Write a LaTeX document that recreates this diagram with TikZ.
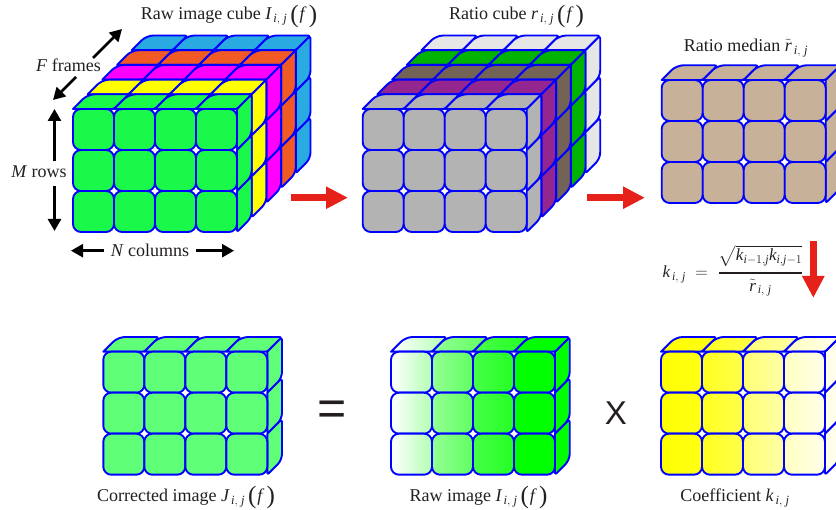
\documentclass[tikz,border=0pt]{standalone}
\usepackage{amsmath}
\usepackage{fontspec}
\setmainfont{Liberation Serif}
\newfontfamily\signfont{Liberation Sans}
\usetikzlibrary{arrows.meta,positioning}
\definecolor{cbgreen}{RGB}{26,249,74}
\definecolor{cbyellow}{RGB}{255,255,0}
\definecolor{cbmagenta}{RGB}{255,0,255}
\definecolor{cborange}{RGB}{241,90,36}
\definecolor{cbblue}{RGB}{41,171,226}
\definecolor{rcgray}{RGB}{179,179,179}
\definecolor{rcpurple}{RGB}{147,39,143}
\definecolor{rcbrown}{RGB}{115,99,87}
\definecolor{rcgreen}{RGB}{0,179,0}
\definecolor{rclight}{RGB}{230,230,230}
\definecolor{mdtan}{RGB}{199,178,153}
\definecolor{okgreen}{RGB}{95,255,120}
\definecolor{rawgreen}{RGB}{0,255,0}
\definecolor{cellblue}{RGB}{0,0,255}
\definecolor{inkblack}{RGB}{35,31,32}
\definecolor{flowred}{RGB}{230,33,26}
\tikzset{
  cellline/.style={draw=cellblue,line width=1.9pt,line join=round},
  frontface/.style={cellline,rounded corners=8pt},
  capnode/.style={anchor=base,text=inkblack,inner sep=0pt,font=\fontsize{18}{20}\selectfont},
  signnode/.style={text=inkblack,inner sep=0pt},
  flowarrow/.style={draw=flowred,line width=7pt,-{Triangle[length=22pt,width=21pt]}},
  axisarrow/.style={draw=black,line width=2.6pt,-{Triangle[length=12pt,width=13pt]}},
}
% one top cell, one side cell, one front cell
\newcommand{\topcell}[3]{\path[cellline,#3] (#1,#2) [rounded corners=7pt] -- ++(14.7,-14.7) [rounded corners=2.5pt] -- ++(41,0) [rounded corners=1.5pt] -- ++(-14.7,14.7) [sharp corners] -- cycle;}
\newcommand{\sidecell}[3]{\path[cellline,#3] (#1,#2) [rounded corners=3pt] -- ++(14.7,-14.7) [rounded corners=6pt] -- ++(0,41) [rounded corners=2pt] -- ++(-14.7,14.7) [sharp corners] -- cycle;}
\newcommand{\frontcell}[3]{\path[frontface,#3] (#1,#2) rectangle ++(41,41);}
% tops and sides of one layer
\newcommand{\cubelayer}[3]{%
  \foreach \c in {0,...,3} {\topcell{#1+\c*41}{#2}{fill=#3}}
  \foreach \r in {0,1,2} {\sidecell{#1+164}{#2+\r*41}{fill=#3}}
}
% twelve front cells
\newcommand{\frontgrid}[3]{%
  \foreach \c in {0,...,3} {\foreach \r in {0,1,2} {\frontcell{#1+\c*41}{#2+\r*41}{fill=#3}}}
}
\newcommand{\subij}{_{\,\textit{i},\;\textit{j}}}
\newcommand{\argf}{\hspace{3pt}\raisebox{-2.5pt}{\fontsize{25}{25}\selectfont(}\hspace{1pt}\textit{f}\hspace{2pt}\raisebox{-2.5pt}{\fontsize{25}{25}\selectfont)}}
\begin{document}
\begin{tikzpicture}[x=1pt,y=-1pt]
\path[use as bounding box,clip] (0,0) rectangle (836,510);
% Raw image cube
\foreach \k/\col in {4/cbblue,3/cborange,2/cbmagenta,1/cbyellow,0/cbgreen} {\cubelayer{73+\k*14.7}{109-\k*14.7}{\col}}
\frontgrid{73}{109}{cbgreen}
\node[capnode] (rawcube) at (229,20) {Raw image cube $\textit{I}\subij$\argf};
\node[capnode] (frames) at (68.5,71.5) {\textit{F} frames};
\node[capnode] (rows) at (39,178) {\textit{M} rows};
\node[capnode] (columns) at (150,256.5) {\textit{N} columns};
\coordinate (framesin) at (93,58);
\coordinate (framesback) at (122,29);
\coordinate (framesout) at (76,77);
\coordinate (framesfront) at (53,100);
\coordinate (rowsup) at (54.5,161);
\coordinate (rowstop) at (54.5,109);
\coordinate (rowsdown) at (54.5,186);
\coordinate (rowsbottom) at (54.5,231);
\coordinate (colsin) at (104,250.7);
\coordinate (colsleft) at (71,250.7);
\coordinate (colsout) at (196,250.7);
\coordinate (colsright) at (234,250.7);
\draw[axisarrow] (framesin) -- (framesback);
\draw[axisarrow] (framesout) -- (framesfront);
\draw[axisarrow] (rowsup) -- (rowstop);
\draw[axisarrow] (rowsdown) -- (rowsbottom);
\draw[axisarrow] (colsin) -- (colsleft);
\draw[axisarrow] (colsout) -- (colsright);
% Ratio cube
\foreach \k/\col in {4/rclight,3/rcgreen,2/rcbrown,1/rcpurple,0/rcgray} {\cubelayer{362.7+\k*14.7}{109-\k*14.7}{\col}}
\frontgrid{362.7}{109}{rcgray}
\node[capnode] (ratiocube) at (516.5,20) {Ratio cube $\textit{r}\subij$\argf};
% Ratio median
\cubelayer{661.7}{80}{mdtan}
\frontgrid{661.7}{80}{mdtan}
\node[capnode] (ratiomedian) at (746,51.5) {Ratio median $\tilde{\textit{r}}\subij$};
% Coefficient formula
\node[signnode,font=\fontsize{17}{20}\selectfont] (formula) at (733,271) {$\textit{k}\subij\;=\;\genfrac{}{}{1.8pt}{0}{\sqrt{\textit{k}_{\textit{i}-1,\textit{j}}\textit{k}_{\textit{i},\textit{j}-1}}}{\tilde{\textit{r}}\subij}$};
% Flow arrows
\coordinate (flowa) at (291,197.7);
\coordinate (flowb) at (348,197.7);
\coordinate (flowc) at (587,197.7);
\coordinate (flowd) at (645,197.7);
\coordinate (flowe) at (813.3,241);
\coordinate (flowf) at (813.3,298);
\draw[flowarrow] (flowa) -- (flowb);
\draw[flowarrow] (flowc) -- (flowd);
\draw[flowarrow] (flowe) -- (flowf);
% Corrected image
\cubelayer{103.3}{351.7}{okgreen}
\frontgrid{103.3}{351.7}{okgreen}
\node[capnode] (corrected) at (186,501.5) {Corrected image $\textit{J}\subij$\argf};
\node[signnode,font=\signfont\fontsize{50}{50}\selectfont] (equals) at (332,413.7) {=};
% Raw image
\foreach \r in {0,1,2} {\sidecell{391+164}{351.7+\r*41}{fill=rawgreen}}
\foreach \c/\lc/\rc in {0/0/30,1/42/62,2/72/86,3/100/100} {
  \topcell{391+\c*41}{351.7}{left color=rawgreen!\lc!white,right color=rawgreen!\rc!white}
  \foreach \r in {0,1,2} {\frontcell{391+\c*41}{351.7+\r*41}{left color=rawgreen!\lc!white,right color=rawgreen!\rc!white}}
}
\node[capnode] (rawimage) at (478.5,501.5) {Raw image $\textit{I}\subij$\argf};
\node[signnode,font=\signfont\fontsize{33}{33}\selectfont] (times) at (616,413) {X};
% Coefficient
\foreach \r in {0,1,2} {\sidecell{661+164}{351.7+\r*41}{fill=cbyellow!8!white}}
\foreach \c/\lc/\rc in {0/100/92,1/88/70,2/55/35,3/25/8} {
  \topcell{661+\c*41}{351.7}{left color=cbyellow!\lc!white,right color=cbyellow!\rc!white}
  \foreach \r in {0,1,2} {\frontcell{661+\c*41}{351.7+\r*41}{left color=cbyellow!\lc!white,right color=cbyellow!\rc!white}}
}
\node[capnode] (coefficient) at (735,501.5) {Coefficient $\textit{k}\subij$};
\end{tikzpicture}
\end{document}
